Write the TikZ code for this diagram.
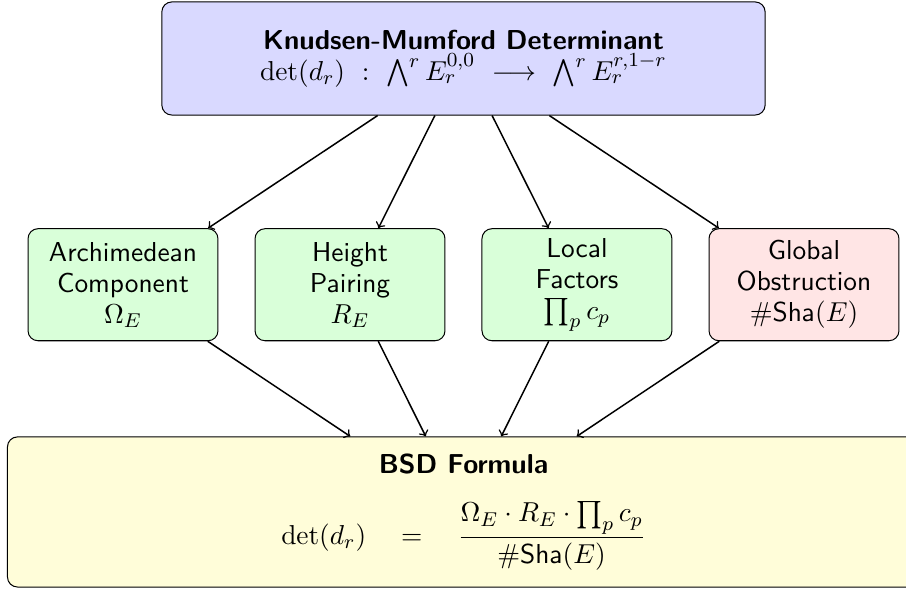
\documentclass[tikz,border=0pt,11pt]{standalone}
\usepackage{amsmath,amssymb}
\usepackage{tikz}

\newcommand{\Sha}{\mathsf{Sha}}

\begin{document}
\begin{tikzpicture}[
    box/.style={draw, thin, rounded corners, align=center,
        font=\sffamily\fontsize{10.95}{12.4}\selectfont},
    part/.style={box, fill=green!15, minimum width=2.67cm, minimum height=1.575cm},
    link/.style={->, semithick}]
\useasboundingbox (-6.515,0.822) rectangle (6.22,-7.471);
% source
\node[box, fill=blue!15, minimum width=8.48cm, minimum height=1.59cm] (kmd) at (0,0)
    {\textbf{Knudsen-Mumford Determinant}\\
     $\det(d_r)\ :\ \bigwedge^r E_r^{0,0}\ \longrightarrow\ \bigwedge^r E_r^{r,1-r}$};
% the four factors
\node[part] (arch) at (-4.786,-3.18) {Archimedean\\ Component\\ $\Omega_E$};
\node[part] (hgt)  at (-1.595,-3.18) {Height\\ Pairing\\ $R_E$};
\node[part] (loc)  at (1.595,-3.18)  {Local\\ Factors\\ $\prod_p c_p$};
\node[part, fill=red!10] (glob) at (4.786,-3.18) {Global\\ Obstruction\\ $\#\Sha(E)$};
% target
\node[box, fill=yellow!15, minimum width=12.82cm, minimum height=2.11cm] (bsd) at (0,-6.374)
    {\textbf{BSD Formula}\\[10pt]
     $\displaystyle \det(d_r)\quad=\quad\frac{\Omega_E\cdot R_E\cdot\prod_p c_p}{\#\Sha(E)}$};
\foreach \n in {arch,hgt,loc,glob} {
    \draw[link] (kmd) -- (\n);
    \draw[link] (\n) -- (bsd);
}
\end{tikzpicture}
\end{document}
